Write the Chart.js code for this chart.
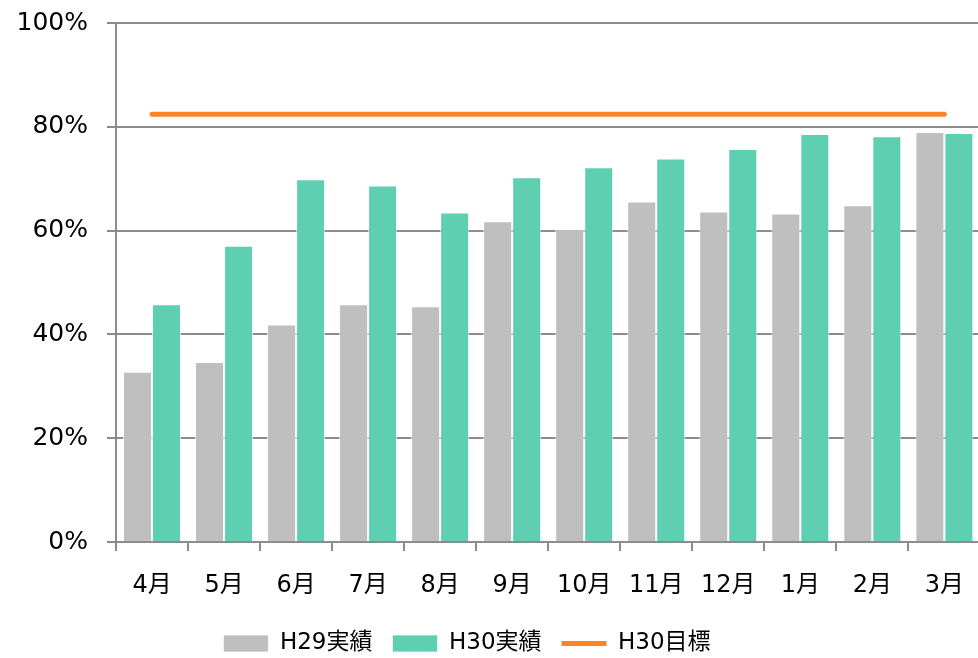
<!DOCTYPE html>
<html>
<head>
<meta charset="utf-8">
<script src="https://cdn.jsdelivr.net/npm/chart.js@4/dist/chart.umd.min.js"></script>
<style>
  html, body { margin: 0; padding: 0; background: #fff; overflow: hidden; }
  #wrap { width: 984px; height: 658px; position: relative; }
</style>
</head>
<body>
<div id="wrap"><canvas id="achievementChart"></canvas></div>
<script>
var months = ["4月", "5月", "6月", "7月", "8月", "9月", "10月", "11月", "12月", "1月", "2月", "3月"];
var h29Actual = [32.8, 34.7, 41.9, 45.8, 45.4, 61.8, 60.2, 65.6, 63.7, 63.3, 64.9, 79.0];
var h30Actual = [45.8, 57.1, 69.9, 68.7, 63.5, 70.3, 72.2, 73.9, 75.7, 78.6, 78.2, 78.8];
var h30Target = [82.4, 82.4, 82.4, 82.4, 82.4, 82.4, 82.4, 82.4, 82.4, 82.4, 82.4, 82.4];
var seriesLabels = ["H29実績", "H30実績", "H30目標"];

var FONT = "'DejaVu Sans', Verdana, 'Noto Sans CJK JP', sans-serif";
var AXIS_GREY = "#8c8c8c";

// the reference legend sits a little left of centre and lower down
var legendShift = {
    id: 'legendShift',
    afterLayout: function (chart) {
        var lg = chart.legend;
        if (lg) {
            lg.left -= 25;
            lg.right -= 25;
            lg.top += 7;
            lg.bottom += 7;
        }
    }
};

var ctx = document.getElementById("achievementChart").getContext("2d");
var myChart = new Chart(ctx, {
    type: "bar",
    data: {
        labels: months,
        datasets: [
            {
                label: seriesLabels[0],
                data: h29Actual,
                backgroundColor: "#bfbfbf",
                borderColor: "rgba(255,255,255,0.7)",
                borderWidth: 1,
                pointStyle: "rect"
            },
            {
                label: seriesLabels[1],
                data: h30Actual,
                backgroundColor: "#5ecfb1",
                borderColor: "rgba(255,255,255,0.7)",
                borderWidth: 1,
                pointStyle: "rect"
            },
            {
                type: "line",
                label: seriesLabels[2],
                data: h30Target,
                borderColor: "#ff8426",
                backgroundColor: "#ff8426",
                borderWidth: 5,
                borderCapStyle: "round",
                pointRadius: 0,
                pointStyle: "line",
                fill: false
            }
        ]
    },
    options: {
        responsive: true,
        maintainAspectRatio: false,
        animation: false,
        devicePixelRatio: 1,
        layout: {
            padding: { top: 0, left: 0, right: 0, bottom: 0 }
        },
        datasets: {
            bar: {
                categoryPercentage: 0.806,
                barPercentage: 1.0
            }
        },
        scales: {
            x: {
                grid: {
                    offset: true,
                    drawOnChartArea: false,
                    drawTicks: true,
                    tickLength: 9,
                    color: AXIS_GREY,
                    lineWidth: 2
                },
                border: { display: true, color: AXIS_GREY, width: 2 },
                ticks: {
                    color: "#000",
                    font: { family: FONT, size: 24 },
                    padding: 20,
                    maxRotation: 0,
                    autoSkip: false
                },
                afterFit: function (scale) { scale.height = 63; }
            },
            y: {
                min: 0,
                max: 100,
                grid: {
                    color: AXIS_GREY,
                    lineWidth: 2,
                    tickLength: 9
                },
                border: { display: true, color: AXIS_GREY, width: 2 },
                ticks: {
                    stepSize: 20,
                    color: "#000",
                    font: { family: FONT, size: 25 },
                    padding: 19,
                    callback: function (v) { return v + "%"; }
                },
                afterFit: function (scale) {
                    scale.width = 116;
                    scale.paddingTop = 23;  // plot top sits at y=23
                }
            }
        },
        plugins: {
            tooltip: { enabled: false },
            legend: {
                position: "bottom",
                labels: {
                    color: "#000",
                    font: { family: FONT, size: 23 },
                    usePointStyle: true,
                    pointStyleWidth: 45,
                    boxHeight: 17,
                    padding: 20
                }
            }
        }
    },
    plugins: [legendShift]
});
</script>
</body>
</html>
